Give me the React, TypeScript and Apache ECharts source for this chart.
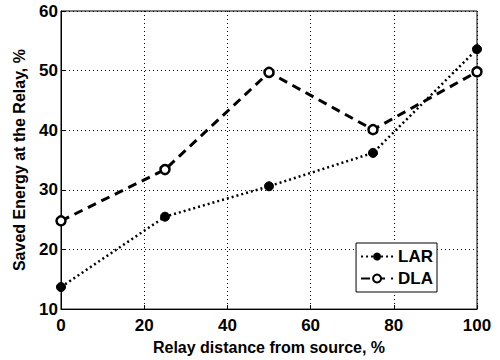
import React, { useEffect, useRef } from "react";
import * as echarts from "echarts";

const distances = [0, 25, 50, 75, 100];
const larValues = [13.7, 25.5, 30.6, 36.2, 53.6];
const dlaValues = [24.8, 33.4, 49.7, 40.1, 49.8];
const xTitle = "Relay distance from source, %";
const yTitle = "Saved Energy at the Relay, %";

export default function App() {
  const ref = useRef<HTMLDivElement>(null);
  useEffect(() => {
    const chart = echarts.init(ref.current!, null, { renderer: "svg" });
    const font = "'Liberation Sans', Arial, Helvetica, sans-serif";
    const axisLabel = { color: "#000", fontSize: 17, fontWeight: "bold" as const, fontFamily: font };
    const splitLine = { show: true, lineStyle: { color: "#000", type: [1, 3] as any, width: 1 } };
    chart.setOption({
      animation: false,
      backgroundColor: "#fff",
      grid: { left: 61, right: 23, top: 11, bottom: 46, show: true, borderColor: "#000", borderWidth: 1, backgroundColor: "transparent" },
      legend: {
        orient: "vertical",
        right: 63,
        top: 243,
        itemWidth: 32,
        itemHeight: 10,
        itemGap: 5,
        padding: [5, 4, 5, 4],
        borderColor: "#000",
        borderWidth: 1,
        backgroundColor: "#fff",
        textStyle: { color: "#000", fontSize: 17, fontWeight: "bold", fontFamily: font },
        data: ["LAR", "DLA"],
      },
      xAxis: {
        type: "value",
        min: 0,
        max: 100,
        interval: 20,
        name: xTitle,
        nameLocation: "middle",
        nameGap: 28,
        nameTextStyle: { color: "#000", fontSize: 16, fontWeight: "bold", fontFamily: font },
        axisLine: { show: true, lineStyle: { color: "#000" } },
        axisTick: { show: true, inside: true, length: 4, lineStyle: { color: "#000" } },
        axisLabel: { ...axisLabel, margin: 8 },
        splitLine,
      },
      yAxis: {
        type: "value",
        min: 10,
        max: 60,
        interval: 10,
        name: yTitle,
        nameLocation: "middle",
        nameGap: 34,
        nameTextStyle: { color: "#000", fontSize: 16, fontWeight: "bold", fontFamily: font },
        axisLine: { show: true, lineStyle: { color: "#000" } },
        axisTick: { show: true, inside: true, length: 4, lineStyle: { color: "#000" } },
        axisLabel: { ...axisLabel, margin: 3 },
        splitLine,
      },
      series: [
        {
          name: "LAR",
          type: "line",
          data: distances.map((d, i) => [d, larValues[i]]),
          symbol: "circle",
          symbolSize: 9,
          itemStyle: { color: "#000", borderColor: "#000" },
          lineStyle: { color: "#000", width: 2.5, type: [2, 3] as any },
          z: 3,
        },
        {
          name: "DLA",
          type: "line",
          data: distances.map((d, i) => [d, dlaValues[i]]),
          symbol: "circle",
          symbolSize: 9,
          itemStyle: { color: "#fff", borderColor: "#000", borderWidth: 2.5 },
          lineStyle: { color: "#000", width: 3, type: [9, 6] as any },
          z: 4,
        },
      ],
    });
    return () => chart.dispose();
  }, []);
  return <div ref={ref} style={{ width: 500, height: 360, position: "absolute", left: 0, top: 0 }} />;
}
